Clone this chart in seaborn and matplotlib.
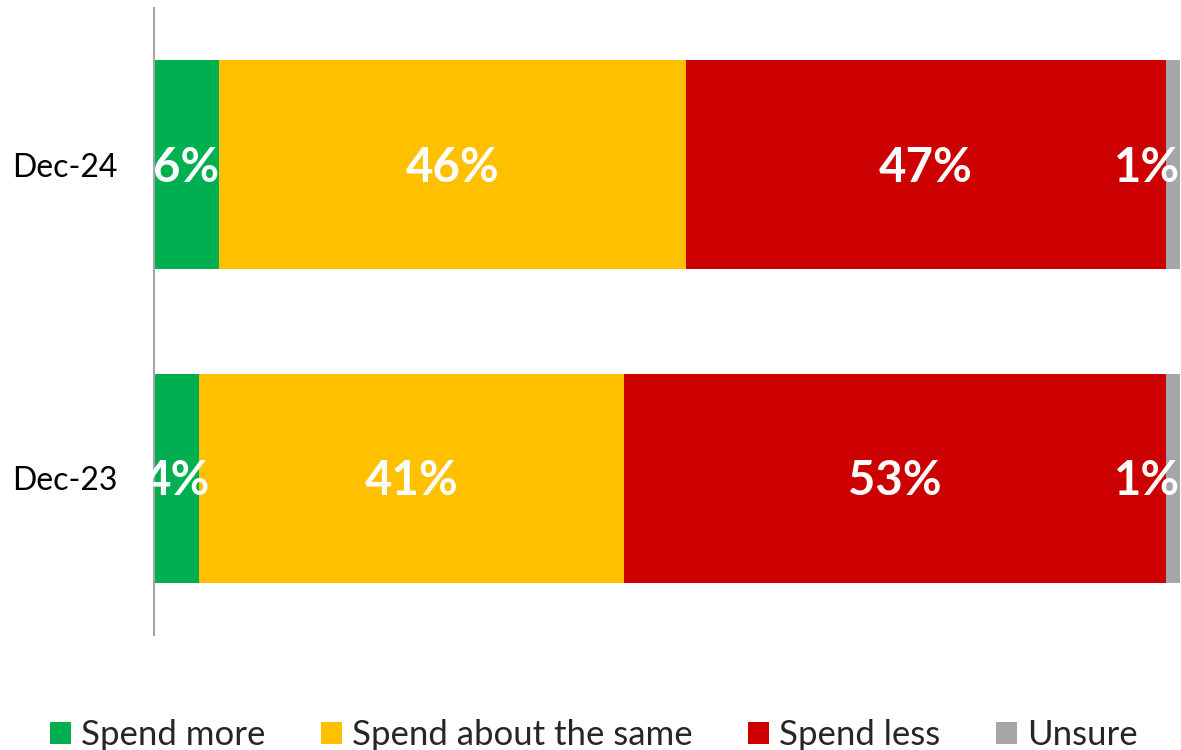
import matplotlib
matplotlib.use("Agg")
import matplotlib.pyplot as plt
from matplotlib.patches import Patch
import numpy as np
import pandas as pd
import seaborn as sns

# Survey periods and response shares (%)
categories = ["Dec-24", "Dec-23"]
spend_more = [6.3, 4.4]
spend_same = [45.6, 41.4]
spend_less = [46.7, 52.8]
unsure = [1.4, 1.4]

series_names = ["Spend more", "Spend about the same", "Spend less", "Unsure"]
series_colors = ["#00B050", "#FFC000", "#CC0000", "#A6A6A6"]

sns.set_theme(style="white")
plt.rcParams["font.family"] = ["Lato", "DejaVu Sans"]

df = pd.DataFrame({
    "period": categories,
    "Spend more": spend_more,
    "Spend about the same": spend_same,
    "Spend less": spend_less,
    "Unsure": unsure,
})

fig = plt.figure(figsize=(11.81, 7.5), dpi=100)
ax = fig.add_axes([154 / 1181, 1 - 635 / 750, 1026 / 1181, 627 / 750])

# Stacked bars: draw cumulative totals from the outermost segment inwards
values = df[series_names].to_numpy()
cum = np.cumsum(values, axis=1)
for i in range(len(series_names) - 1, -1, -1):
    sns.barplot(x=cum[:, i], y=df["period"], orient="h", color=series_colors[i],
                saturation=1, width=0.667, ax=ax, linewidth=0, zorder=2 + (3 - i) * 0.01)

# Percentage labels centred on each segment (last one kept inside the plot)
for r in range(len(categories)):
    for i in range(len(series_names)):
        start = cum[r, i] - values[r, i]
        centre = start + values[r, i] / 2
        label = f"{values[r, i]:.0f}%"
        if i == len(series_names) - 1:
            ax.text(100, r + 0.01, label, ha="right", va="center", color="white",
                    fontsize=34, fontweight="bold", zorder=5)
        else:
            ax.text(centre, r + 0.01, label, ha="center", va="center", color="white",
                    fontsize=34, fontweight="bold", zorder=5)

ax.set_xlim(0, 100)
ax.set_ylim(1.5, -0.5)
ax.set_xlabel("")
ax.set_ylabel("")
ax.set_xticks([])
ax.tick_params(axis="y", length=0, pad=26, labelsize=23, labelcolor="black")
for side in ["top", "right", "bottom"]:
    ax.spines[side].set_visible(False)
ax.spines["left"].set_color("#A6A6A6")
ax.spines["left"].set_linewidth(1.5)

handles = [Patch(facecolor=c, edgecolor="none", label=n) for n, c in zip(series_names, series_colors)]
fig.legend(handles=handles, loc="center", bbox_to_anchor=(0.503, 1 - 735 / 750), ncol=4,
           frameon=False, fontsize=25, handlelength=0.6, handleheight=0.6,
           handletextpad=0.29, columnspacing=1.6, borderpad=0, borderaxespad=0)

fig.savefig("out.png", dpi=100)
